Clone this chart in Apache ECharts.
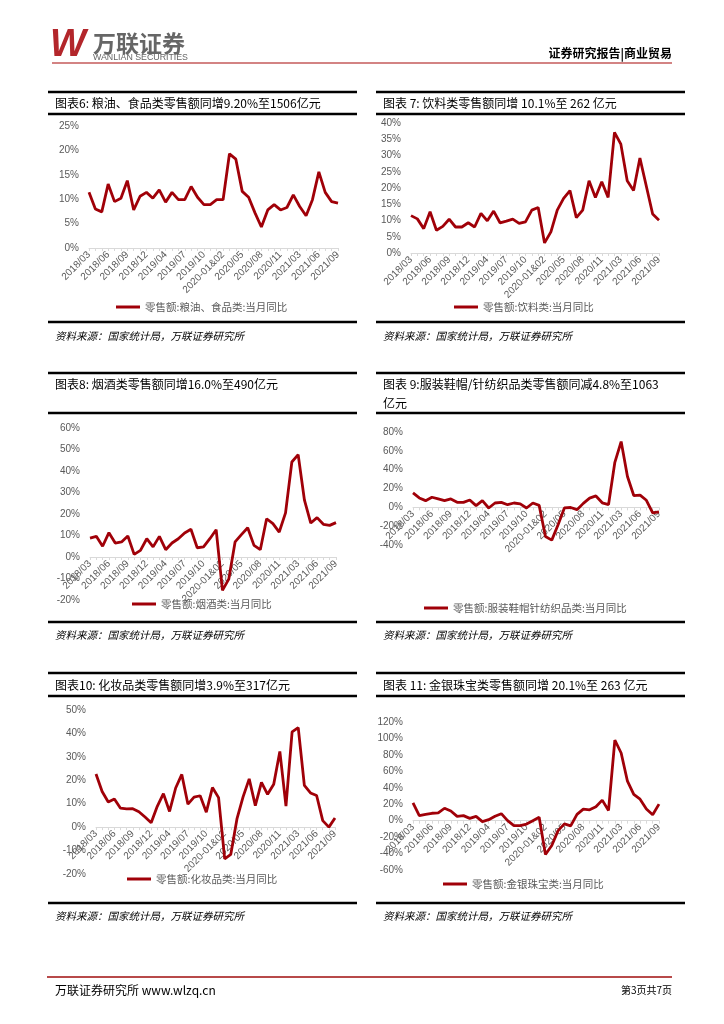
<!DOCTYPE html>
<html><head><meta charset="utf-8">
<script src="https://cdn.jsdelivr.net/npm/echarts@6/dist/echarts.min.js"></script>
<style>html,body{margin:0;padding:0;background:#fff}#c{width:724px;height:1024px}</style>
</head><body><div id="c"></div>
<script>
const categories = ["2018/03","2018/04","2018/05","2018/06","2018/07","2018/08","2018/09","2018/10","2018/11","2018/12",
"2019-01&02","2019/03","2019/04","2019/05","2019/06","2019/07","2019/08","2019/09","2019/10","2019/11","2019/12",
"2020-01&02","2020/03","2020/04","2020/05","2020/06","2020/07","2020/08","2020/09","2020/10","2020/11","2020/12",
"2021-01&02","2021/03","2021/04","2021/05","2021/06","2021/07","2021/08","2021/09"];

const foodValues = [11.4,8.0,7.4,13.1,9.5,10.2,13.8,7.8,10.6,11.4,10.2,11.9,9.4,11.4,9.9,9.9,12.6,10.4,8.9,8.9,9.9,9.9,19.3,18.2,11.6,10.4,7.2,4.3,7.8,8.9,7.8,8.3,10.9,8.5,6.6,9.9,15.6,11.4,9.5,9.2];
const beverageValues = [11.5,10.5,7.5,12.7,7.0,8.2,10.4,8.0,8.0,9.3,8.0,12.2,9.9,12.9,9.3,9.8,10.4,9.1,9.6,13.2,14.0,3.1,6.5,13.2,16.8,19.2,10.9,13.2,22.2,17.1,21.9,17.1,37.1,33.5,22.2,19.2,29.2,20.6,12.0,10.1];
const tobaccoValues = [8.8,9.6,5.0,11.3,6.5,7.0,9.8,1.2,3.1,8.5,4.7,9.6,3.4,6.5,8.5,11.2,12.9,4.3,4.7,8.5,12.7,-15.5,-10.3,7.0,10.4,13.6,5.4,3.4,17.8,15.5,11.6,20.5,44.2,47.6,26.4,15.8,18.3,15.2,14.7,16.0];
const apparelValues = [15.3,10.0,7.1,10.7,8.9,7.1,8.9,5.3,5.3,7.8,1.8,7.1,-0.7,4.6,5.3,2.8,4.6,3.6,-0.7,4.6,2.1,-30.9,-34.8,-18.5,-0.6,-0.2,-2.5,4.2,9.8,12.1,4.8,2.9,47.8,69.8,32.8,12.5,13.0,7.5,-6.0,-4.8];
const cosmeticsValues = [22.7,15.2,10.7,12.0,8.1,7.8,7.9,6.6,4.3,1.9,8.9,14.3,6.7,16.7,22.5,9.8,12.8,13.4,6.4,16.9,12.6,-13.5,-11.6,3.5,12.9,20.6,9.2,19.1,14.0,18.3,32.3,9.0,40.7,42.5,17.8,14.6,13.5,2.8,0.0,3.9];
const jewelryValues = [21.6,6.1,7.7,9.0,9.4,15.1,11.8,5.3,6.1,2.8,5.3,-1.2,1.2,5.3,8.5,0.0,-6.1,-6.1,-4.1,0.0,4.1,-41.1,-30.2,-12.1,-3.9,-6.3,7.6,14.1,13.2,17.0,25.0,12.4,98.1,82.3,48.0,31.9,26.1,14.3,7.2,20.1];

const seriesNames = ["零售额:粮油、食品类:当月同比","零售额:饮料类:当月同比","零售额:烟酒类:当月同比",
"零售额:服装鞋帽针纺织品类:当月同比","零售额:化妆品类:当月同比","零售额:金银珠宝类:当月同比"];
const titles = ["图表6: 粮油、食品类零售额同增9.20%至1506亿元","图表 7: 饮料类零售额同增 10.1%至 262 亿元",
"图表8: 烟酒类零售额同增16.0%至490亿元","图表 9:服装鞋帽/针纺织品类零售额同减4.8%至1063",
"图表10: 化妆品类零售额同增3.9%至317亿元","图表 11: 金银珠宝类零售额同增 20.1%至 263 亿元"];
const yRanges = [[0,25,5],[0,40,5],[-20,60,10],[-40,80,20],[-20,50,10],[-60,120,20]];
const allValues = [foodValues,beverageValues,tobaccoValues,apparelValues,cosmeticsValues,jewelryValues];

// layout
const grids = [
  {left:89, width:249, top:126, height:122},
  {left:411, width:248, top:123, height:130},
  {left:90, width:246, top:428, height:172},
  {left:413, width:246, top:432, height:113},
  {left:96, width:239, top:710, height:164},
  {left:413, width:246, top:722, height:148}
];
const legendPos = [[116,307],[454,307],[132,604],[424,608],[127,879],[443,884]];

const RED = '#A00008';
const GRAY = '#595959';
const cjk = '"Noto Sans CJK SC", sans-serif';
const latin = 'Arial, "Liberation Sans", sans-serif';

const xAxis = [], yAxis = [], series = [], legend = [];
grids.forEach((g,i)=>{
  const mn = yRanges[i][0], mx = yRanges[i][1];
  // shift the category axis (line, ticks and labels) up to the zero line
  const zeroOffset = -g.height * (0 - mn) / (mx - mn);
  xAxis.push({type:'category', gridIndex:i, data:categories, boundaryGap:false, offset:zeroOffset,
    axisLine:{onZero:false, lineStyle:{color:'#d9d9d9', width:1}},
    axisTick:{show:true, length:3, interval:0, lineStyle:{color:'#d9d9d9'}},
    axisLabel:{interval:2, rotate:45, fontSize:10, color:GRAY, fontFamily:latin, margin:5}
  });
  yAxis.push({type:'value', gridIndex:i, min:mn, max:mx, interval:yRanges[i][2],
    axisLine:{show:false}, axisTick:{show:false}, splitLine:{show:false},
    axisLabel:{formatter:'{value}%', fontSize:10, color:GRAY, fontFamily:latin, margin:10}
  });
  series.push({type:'line', name:seriesNames[i], xAxisIndex:i, yAxisIndex:i, data:allValues[i],
    symbol:'none', lineStyle:{color:RED, width:2.8}, itemStyle:{color:RED}, animation:false, z:3});
  legend.push({data:[seriesNames[i]], left:legendPos[i][0], top:legendPos[i][1]-7, padding:0,
    icon:'rect', itemWidth:24, itemHeight:3, itemGap:4,
    textStyle:{fontSize:10.5, color:GRAY, fontFamily:cjk, lineHeight:14}});
});

const graphic = [];
function hline(x1,x2,y,w,color){graphic.push({type:'line', shape:{x1:x1,y1:y,x2:x2,y2:y}, style:{stroke:color||'#000', lineWidth:w||2}, silent:true});}
function txt(x,y,t,opt){graphic.push({type:'text', x:x, y:y, style:Object.assign({text:t, fill:'#000', font:'12px '+cjk, textVerticalAlign:'middle'},opt||{}), silent:true});}

// header
txt(50,46,'W',{fill:'#B3262B', font:'italic bold 38px '+latin});
txt(93,43,'万联证券',{fill:'#666666', font:'bold 23px '+cjk});
txt(93,58,'WANLIAN SECURITIES',{fill:'#666666', font:'8.8px '+latin});
hline(52,672,63,1.5,'#C55A5A');
txt(672,53,'证券研究报告|商业贸易',{font:'bold 12px '+cjk, textAlign:'right'});

// panels
const L=[48,357], R=[376,685];
const src = '资料来源：国家统计局，万联证券研究所';
const srcFont = {font:'italic 10.5px '+cjk};
// row 1
hline(L[0],L[1],92,2.5); hline(R[0],R[1],92,2.5);
txt(55,103,titles[0]); txt(383,103,titles[1]);
hline(L[0],L[1],114,2.5); hline(R[0],R[1],114,2.5);
hline(L[0],L[1],322,2.5); hline(R[0],R[1],322,2.5);
txt(55,336,src,srcFont); txt(383,336,src,srcFont);
// row 2
hline(L[0],L[1],373,2.5); hline(R[0],R[1],373,2.5);
txt(55,384,titles[2]); txt(383,384,titles[3]); txt(383,403,'亿元');
hline(L[0],L[1],413,2.5); hline(R[0],R[1],413,2.5);
hline(L[0],L[1],622,2.5); hline(R[0],R[1],622,2.5);
txt(55,635,src,srcFont); txt(383,635,src,srcFont);
// row 3
hline(L[0],L[1],673,2.5); hline(R[0],R[1],673,2.5);
txt(55,685,titles[4]); txt(383,685,titles[5]);
hline(L[0],L[1],696,2.5); hline(R[0],R[1],696,2.5);
hline(L[0],L[1],903,2.5); hline(R[0],R[1],903,2.5);
txt(55,916,src,srcFont); txt(383,916,src,srcFont);

// footer
hline(47,672,977,2,'#B84A4A');
txt(55,990,'万联证券研究所 www.wlzq.cn',{font:'12px '+cjk});
txt(672,990,'第3页共7页',{font:'10px '+cjk, textAlign:'right'});

const chart = echarts.init(document.getElementById('c'));
chart.setOption({animation:false, grid:grids, xAxis:xAxis, yAxis:yAxis, series:series, legend:legend, graphic:graphic});
</script></body></html>
